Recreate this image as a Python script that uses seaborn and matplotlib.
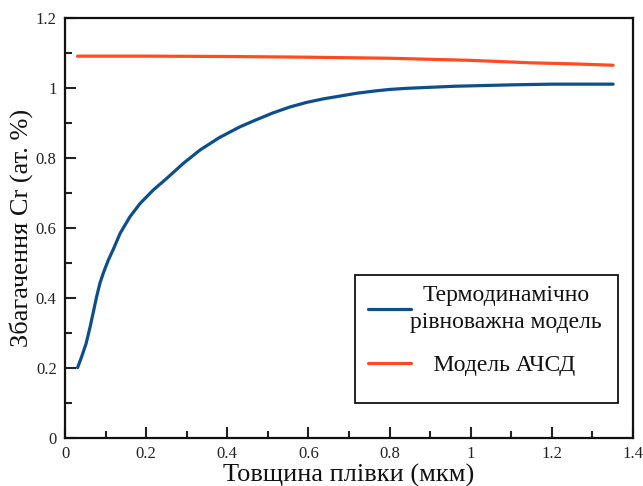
import numpy as np
import pandas as pd
import matplotlib
matplotlib.use("Agg")
import matplotlib.pyplot as plt
import seaborn as sns
from matplotlib.ticker import MultipleLocator, FuncFormatter
from matplotlib.patches import Rectangle

# Data
x_eq = [0.031, 0.041, 0.052, 0.062, 0.070, 0.078, 0.086, 0.095, 0.107, 0.119, 0.136,
        0.160, 0.185, 0.218, 0.251, 0.292, 0.333, 0.380, 0.431, 0.473, 0.513, 0.555,
        0.596, 0.637, 0.678, 0.719, 0.760, 0.801, 0.842, 0.900, 0.960, 1.030, 1.100,
        1.200, 1.280, 1.351]
y_eq = [0.201, 0.232, 0.270, 0.318, 0.361, 0.404, 0.442, 0.473, 0.509, 0.539, 0.585,
        0.632, 0.670, 0.709, 0.742, 0.785, 0.823, 0.858, 0.889, 0.910, 0.929, 0.946,
        0.959, 0.969, 0.977, 0.985, 0.991, 0.996, 0.999, 1.002, 1.005, 1.007, 1.009,
        1.011, 1.011, 1.011]
x_achsd = [0.031, 0.2, 0.4, 0.6, 0.8, 0.9, 1.0, 1.146, 1.25, 1.351]
y_achsd = [1.091, 1.091, 1.090, 1.088, 1.085, 1.082, 1.079, 1.072, 1.069, 1.065]

label_eq = "Термодинамічно\nрівноважна модель"
label_achsd = "    Модель АЧСД"
x_label = "Товщина плівки (мкм)"
y_label = "Збагачення Cr (ат. %)"

df = pd.concat([
    pd.DataFrame({"x": x_eq, "y": y_eq, "model": label_eq}),
    pd.DataFrame({"x": x_achsd, "y": y_achsd, "model": label_achsd}),
])

sns.set_theme(style="white")
plt.rcParams["font.family"] = ["Liberation Serif", "DejaVu Serif"]

W, H = 643, 486
fig = plt.figure(figsize=(W / 100, H / 100), dpi=100)
ax = fig.add_axes([65 / W, 48 / H, 568 / W, 420 / H])

sns.lineplot(data=df, x="x", y="y", hue="model", sort=False,
             palette={label_eq: "#0d4f8b", label_achsd: "#ff4b1f"},
             linewidth=2.3, ax=ax, estimator=None)

ax.set_xlim(0, 1.4)
ax.set_ylim(0, 1.2)
fmt = FuncFormatter(lambda v, _: f"{v:g}")
ax.xaxis.set_major_locator(MultipleLocator(0.2))
ax.xaxis.set_minor_locator(MultipleLocator(0.1))
ax.yaxis.set_major_locator(MultipleLocator(0.2))
ax.yaxis.set_minor_locator(MultipleLocator(0.1))
ax.xaxis.set_major_formatter(fmt)
ax.yaxis.set_major_formatter(fmt)
ax.tick_params(which="major", direction="in", length=8, width=1.5, labelsize=12,
               bottom=True, left=True, top=False, right=False, colors="#222222",
               labelcolor="#222222", pad=6)
ax.tick_params(which="minor", direction="in", length=5, width=1.5,
               bottom=True, left=True, top=False, right=False, colors="#222222")
for s in ax.spines.values():
    s.set_color("#111111")
    s.set_linewidth(1.6)

ax.set_xlabel(x_label, fontsize=19, labelpad=1, color="#111111")
ax.set_ylabel(y_label, fontsize=19, color="#111111")
ax.yaxis.set_label_coords(-0.056, 0.5)

leg = ax.legend(loc="upper left", bbox_to_anchor=(368 / W, 1 - 285 / H),
                bbox_transform=fig.transFigure, fontsize=17,
                frameon=False, handlelength=1.8, handletextpad=0.0,
                borderpad=0.0, borderaxespad=0.0, labelspacing=0.9, title=None)
for t in leg.get_texts():
    t.set_multialignment("center")
    t.set_linespacing(1.4)
    t.set_color("#111111")

fig.add_artist(Rectangle((355 / W, 1 - 403 / H), 263 / W, 128 / H, fill=False,
                         edgecolor="#111111", linewidth=1.3,
                         transform=fig.transFigure))

fig.savefig("out.png", dpi=100)
